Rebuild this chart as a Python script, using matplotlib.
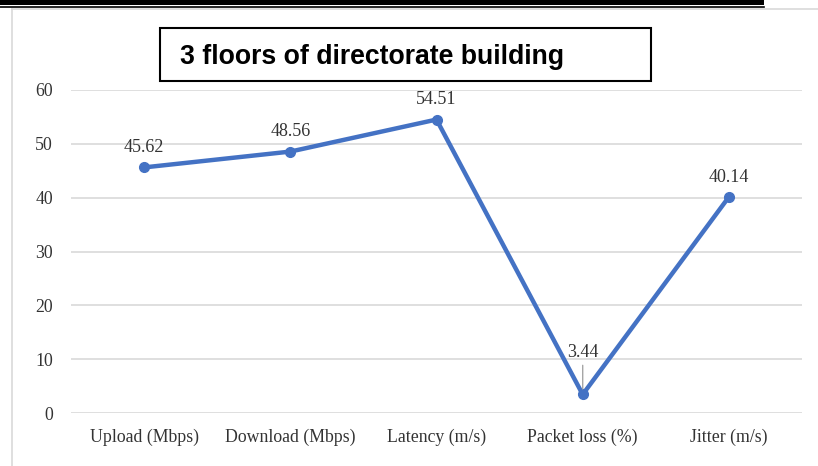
import numpy as np
import matplotlib.pyplot as plt
from matplotlib.patches import Rectangle
from matplotlib.lines import Line2D

categories = ["Upload (Mbps)", "Download (Mbps)", "Latency (m/s)", "Packet loss (%)", "Jitter (m/s)"]
values = [45.62, 48.56, 54.51, 3.44, 40.14]
yticks = [0, 10, 20, 30, 40, 50, 60]

W, H = 818, 466
fig = plt.figure(figsize=(W/100, H/100), dpi=100)

# frame bits around the chart (page scan look)
fig.add_artist(Rectangle((0, 1-4.5/H), 764/W, 4.5/H, transform=fig.transFigure, color='black', lw=0))
fig.add_artist(Line2D([0, 764/W], [1-6.5/H]*2, transform=fig.transFigure, color='black', lw=1.2))
fig.add_artist(Line2D([12/W, 1], [1-8.5/H]*2, transform=fig.transFigure, color='#d9d9d9', lw=1.2))
fig.add_artist(Line2D([11.5/W]*2, [0, 1-8.5/H], transform=fig.transFigure, color='#d9d9d9', lw=1.2))

ax = fig.add_axes([71/W, 1-413/H, (802-71)/W, (413-90)/H])
x = np.arange(len(categories))
ax.plot(x, values, color='#4472C4', lw=3.2, marker='o', ms=7, solid_capstyle='round', zorder=3)
ax.set_xlim(-0.5, len(categories)-0.5)
ax.set_ylim(0, 60)
ax.set_yticks(yticks)
ax.set_xticks(x)
ax.set_xticklabels(categories)
ax.grid(axis='y', color='#d9d9d9', lw=1.2)
ax.set_axisbelow(True)
for s in ax.spines.values():
    s.set_visible(False)
ax.tick_params(length=0, labelsize=12.8, labelcolor='#333333')
ax.tick_params(axis='y', pad=13)
ax.tick_params(axis='x', pad=11)
for lab in ax.get_xticklabels() + ax.get_yticklabels():
    lab.set_family('Liberation Serif')

for i, v in enumerate(values):
    if i == 3:
        ax.annotate(f"{v:.2f}", (i, v), xytext=(0, 24), textcoords='offset points',
                    ha='center', va='bottom', fontsize=13, family='Liberation Serif',
                    color='#333333',
                    arrowprops=dict(arrowstyle='-', color='#a6a6a6', lw=1, shrinkA=1, shrinkB=4))
    else:
        ax.annotate(f"{v:.2f}", (i, v), xytext=(0, 8), textcoords='offset points',
                    ha='center', va='bottom', fontsize=13, family='Liberation Serif',
                    color='#333333')

# title box
fig.add_artist(Rectangle((160/W, 1-81/H), (651-160)/W, (81-28)/H, transform=fig.transFigure,
                         fill=False, ec='black', lw=1.5))
fig.text(180/W, 1-57/H, "3 floors of directorate building", fontsize=19.2, fontweight='bold',
         family='Liberation Sans', va='center', ha='left')

fig.savefig('out.png', dpi=100)
